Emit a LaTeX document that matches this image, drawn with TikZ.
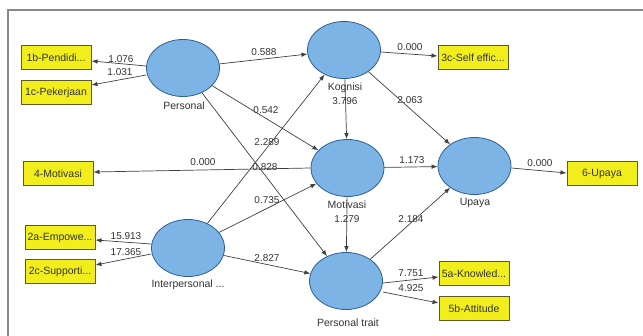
\documentclass[tikz,border=0pt]{standalone}
\usepackage{fontspec}
\setmainfont{Liberation Sans}
\usetikzlibrary{arrows.meta,shapes.geometric}
\definecolor{lvfill}{HTML}{7DB4E6}
\definecolor{lvline}{HTML}{2F5F8F}
\definecolor{boxfill}{HTML}{F2EE1C}
\definecolor{boxline}{HTML}{5C5A28}
\definecolor{edgecol}{HTML}{404040}
\definecolor{txtcol}{HTML}{333333}
\definecolor{framecol}{HTML}{8A8A8A}
\begin{document}
\begin{tikzpicture}[x=1pt,y=-1pt,
  lv/.style={ellipse, draw=lvline, fill=lvfill, line width=0.8pt, minimum width=73pt, minimum height=57pt, inner sep=0pt},
  ind/.style={rectangle, draw=boxline, fill=boxfill, line width=1pt, minimum width=70pt, minimum height=24pt, inner sep=0pt, text=txtcol, font=\fontsize{10.5}{12}\selectfont},
  lbl/.style={inner sep=0pt, text=txtcol, font=\fontsize{10}{12}\selectfont},
  lvl/.style={inner sep=0pt, text=txtcol, font=\fontsize{10.5}{12}\selectfont},
  arr/.style={draw=edgecol, line width=0.7pt, -{Latex[length=6pt,width=4.5pt]}}]
\useasboundingbox (0,0) rectangle (643,336);
\fill[white] (0,0) rectangle (643,336);
\draw[framecol, line width=1.5pt] (643,10) -- (8,10) -- (8,336);

% latent variables
\node[lv] (P) at (183,68) {};
\node[lv] (K) at (344,50) {};
\node[lv] (M) at (347.5,168) {};
\node[lv] (I) at (188,248) {};
\node[lv] (T) at (346,281) {};
\node[lv] (U) at (474.5,166) {};

% latent labels
\node[lvl] (lP) at (184,106) {Personal};
\node[lvl] (lK) at (345,88) {Kognisi};
\node[lvl] (lM) at (347,205) {Motivasi};
\node[lvl] (lI) at (188,285) {Interpersonal ...};
\node[lvl] (lT) at (348,323) {Personal trait};
\node[lvl] (lU) at (475,203) {Upaya};

% indicators
\node[ind] (b1) at (56,58) {1b-Pendidi...};
\node[ind] (c1) at (56,93) {1c-Pekerjaan};
\node[ind] (m4) at (58,174) {4-Motivasi};
\node[ind] (a2) at (60,238) {2a-Empowe...};
\node[ind] (c2) at (60,272) {2c-Supporti...};
\node[ind] (c3) at (473,58) {3c-Self effic...};
\node[ind] (u6) at (602,174) {6-Upaya};
\node[ind] (a5) at (474,274) {5a-Knowled...};
\node[ind] (b5) at (474,309) {5b-Attitude};

% outer model connectors
\draw[arr] ([yshift=2pt]P.west) -- ([yshift=-3pt]b1.east);
\draw[arr] ([yshift=-7pt]P.west) -- ([yshift=8pt]c1.east);
\draw[arr] ([yshift=4pt]I.west) -- ([yshift=-2pt]a2.east);
\draw[arr] ([yshift=-6pt]I.west) -- ([yshift=7pt]c2.east);
\draw[arr] (M.west) -- ([yshift=2pt]m4.east);
\draw[arr] ([yshift=-2pt]K.east) -- ([yshift=2pt]c3.west);
\draw[arr] ([yshift=-2pt]U.east) -- ([yshift=1pt]u6.west);
\draw[arr] ([yshift=-2pt]T.east) -- ([yshift=-3pt]a5.west);
\draw[arr] ([yshift=-11pt]T.east) -- ([yshift=6pt]b5.west);

% inner model connectors
\draw[arr] (P) -- (K);
\draw[arr] (P) -- (M);
\draw[arr] (P) -- (T);
\draw[arr] (I) -- (K);
\draw[arr] (I) -- (M);
\draw[arr] (I) -- (T);
\draw[arr] (K) -- (M);
\draw[arr] (K) -- (U);
\draw[arr] (M) -- (U);
\draw[arr] (M) -- (T);
\draw[arr] (T) -- (U);

% path labels
\node[lbl] (e1) at (121,59) {1.076};
\node[lbl] (e2) at (120,72) {1.031};
\node[lbl] (e3) at (264,52) {0.588};
\node[lbl] (e4) at (266,110) {0.542};
\node[lbl] (e5) at (267,142) {2.289};
\node[lbl] (e6) at (203,162) {0.000};
\node[lbl] (e7) at (265,167) {0.828};
\node[lbl] (e8) at (267,200) {0.735};
\node[lbl] (e9) at (126,236) {15.913};
\node[lbl] (e10) at (126,252) {17.365};
\node[lbl] (e11) at (267,258) {2.827};
\node[lbl] (e12) at (345,101) {3.796};
\node[lbl] (e13) at (410,47) {0.000};
\node[lbl] (e14) at (410,100) {2.063};
\node[lbl] (e15) at (412,160) {1.173};
\node[lbl] (e16) at (540,163) {0.000};
\node[lbl] (e17) at (347,219) {1.279};
\node[lbl] (e18) at (411,219) {2.184};
\node[lbl] (e19) at (411,273) {7.751};
\node[lbl] (e20) at (411,288) {4.925};
\end{tikzpicture}
\end{document}
